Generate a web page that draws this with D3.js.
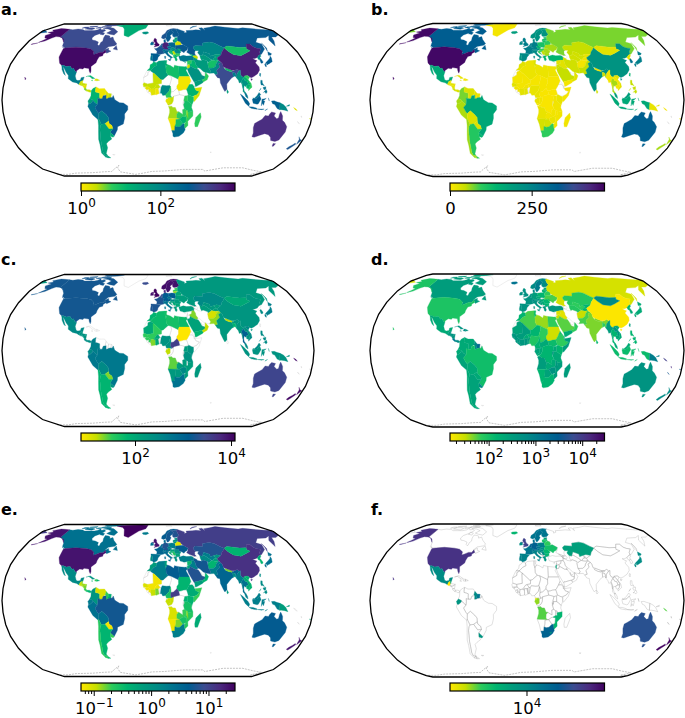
<!DOCTYPE html>
<html>
<head>
<meta charset="utf-8">
<script src="https://cdn.jsdelivr.net/npm/d3@7"></script>
<style>
  html, body { margin: 0; background: #fff; }
  svg { display: block; font-family: "DejaVu Sans", sans-serif; }
</style>
</head>
<body>
<svg id="chart" width="685" height="718"></svg>
<script>
// Country outlines: no atlas is available offline, so these are coarse hand-traced
// [lon, lat, lon, lat, ...] rings. Values below are read off the picture by colour.
const shapes = {
  CAN: [[-141,69.6,-135,69,-128,70,-120,69.5,-115,68,-108,68,-100,68,-95,69,-94,72,-90,69,-85,69.5,-82,68,-87,64.5,-93,62,-94.5,59,-92.5,57,-88,56.5,-82.5,55,-82,52.5,-80,51.5,-79,52,-79,54.5,-77,56,-78,59,-78,62.5,-73,62,-70,61,-69,59,-65,60,-62,57,-56,53,-58,51.3,-66,50.2,-70,47,-65,49,-64.5,47,-61,46,-66,44,-67,45,-69,47.3,-71,45,-75,45,-79,43.5,-83,42,-82.5,45,-88,48,-95,49,-123,49,-128,51,-130,54.5,-133,57,-137,59,-141,60],
    [-80,73.5,-72,71.5,-62,66.5,-65,62.5,-72,63.5,-78,65,-73,68,-80,70,-89,71,-85,73.5],[-117,70,-105,69,-102,71,-108,73,-117,73],[-90,77,-75,78,-62,82,-75,83,-92,81],[-125,72,-116,73,-118,75,-124,74.5],[-59,48,-53,47,-56,51.5],[-128,50.5,-123.5,48.5,-125,49],[-95,74,-80,74,-80,76,-95,76],[-117,75,-105,75,-105,77,-117,76],[-102,72,-96,71.5,-93,74,-100,74],[-87,63.5,-81,62.5,-81,65,-86,66],[-95,78,-88,77.5,-86,81,-95,81]],
  USA: [[-124.7,48.4,-123,49,-95,49,-88,48,-83,45.5,-82.5,42.5,-79,43.5,-75,45,-71,45,-69,47.3,-67,45,-70,43.5,-70,41.6,-74,40.6,-75.5,37.5,-76,35,-81,31.5,-80,27,-80.5,25,-82,27,-83,29.5,-85,29.7,-89,30.2,-90,29,-94,29.5,-97.3,27.5,-97.2,26,-99.5,27.5,-101.5,29.8,-103,29,-106.5,31.8,-111,31.3,-114.8,32.5,-117.1,32.5,-120.5,34.5,-122.5,37.5,-124.3,40.3,-124.5,43],
    [-141,69.6,-141,60,-137,59,-130.5,54.8,-134,58,-140,60,-148,60.5,-152,59,-158,56,-165,54.5,-158,58.5,-162,59,-166,62,-161,64.5,-168,65.6,-162,67,-166,68.5,-157,71,-150,70.5],[-165,54,-172,52.5,-172,52.9],[-156,19,-155,20,-156,20.5,-157,21.5]],
  GRL: [[-73,78,-60,82,-30,83.5,-18,80,-20,72,-30,68,-43,60,-50,62,-54,70,-60,75]],
  MEX: [[-117.1,32.5,-114.8,32.5,-111,31.3,-106.5,31.8,-103,29,-101.5,29.8,-99.5,27.5,-97.2,26,-97.8,22.5,-96,19,-94,18.2,-91,18.7,-90.5,21,-87,21.5,-88,18,-89.2,17.9,-91,17.2,-92.2,14.6,-95,16,-100,17,-105.5,20,-106,23,-109.5,26,-112.5,29.5,-114.8,31.5,-112,27,-109.5,23,-112,24.7,-115,28.5,-116,31]],
  GTM: [[-92.2,14.6,-91,17.2,-89.2,17.9,-88.9,15.9,-89.3,14.4,-90.5,13.8]],
  BLZ: [[-89.2,17.9,-88.2,18.4,-88.3,16,-88.9,15.9]],
  SLV: [[-90,13.8,-89.3,14.4,-87.7,13.8,-88,13.2]],
  HND: [[-89.3,14.4,-88.9,15.9,-83.2,15,-84.7,14,-87.5,13,-87.7,13.8]],
  NIC: [[-87.5,13,-84.7,14,-83.2,15,-83.7,11,-85.7,11]],
  CRI: [[-85.7,11,-83.7,11,-82.6,9.5,-83,8.3,-85.7,9.9]],
  PAN: [[-83,8.3,-82.6,9.5,-79.5,9.6,-77.4,8.7,-78,7.3,-80,7.4,-81,8]],
  CUB: [[-85,21.9,-80,23.1,-74.2,20.2,-77.7,19.9,-78,20.7,-82,22.6]],
  HTI: [[-74.4,18.4,-73.3,20,-71.7,19.8,-71.7,18]],
  DOM: [[-71.7,18,-71.7,19.8,-68.4,18.6]],
  JAM: [[-78.3,18.3,-76.2,18,-77,18.5]],
  COL: [[-77.4,8.7,-75.5,10.7,-72,12.2,-72.4,10,-72.5,7.5,-70,7,-67.5,6.2,-67.5,3,-67,1.2,-69.8,1.7,-69.5,-1,-70,-4.2,-73,-2.3,-75.3,0,-78.8,1.4,-77.5,4,-77.4,7]],
  VEN: [[-72,12.2,-68,10.6,-62,10.7,-60,8.5,-61,5.2,-63.4,3.9,-64.5,1.2,-67,1.2,-67.5,3,-67.5,6.2,-70,7,-72.5,7.5,-72.4,10]],
  GUY: [[-60,8.5,-57.2,6,-58,1.5,-60,1.2,-60,4.5,-61,5.2]],
  SUR: [[-57.2,6,-54,5.8,-54.4,2.3,-57,2,-58,1.5]],
  GUF: [[-54,5.8,-51.7,4.2,-53,2.2,-54.4,2.3]],
  ECU: [[-78.8,1.4,-75.3,0,-75.5,-1.5,-78.3,-3.5,-80.2,-3.4,-80.9,-1]],
  PER: [[-80.2,-3.4,-78.3,-3.5,-75.5,-1.5,-75.3,0,-73,-2.3,-70,-4.2,-73,-7,-70.5,-11,-69,-12.5,-69.5,-17.5,-70.4,-18.3,-76,-14,-81.2,-6]],
  BRA: [[-51.7,4.2,-53,2.2,-54.4,2.3,-57,2,-58,1.5,-60,1.2,-60,4.5,-63.4,3.9,-64.5,1.2,-67,1.2,-69.8,1.7,-69.5,-1,-70,-4.2,-73,-7,-70.5,-11,-69,-12.5,-65.3,-10,-60.5,-13.7,-58,-16.3,-58,-19.8,-57.7,-22,-54.6,-24,-54,-27,-57.6,-30.2,-53.4,-33.7,-48.6,-28,-48,-25,-41,-22.5,-39,-17,-38.9,-13,-35,-9,-35,-5.5,-40,-2.8,-44.3,-2.5,-48,-0.8,-50,0.5]],
  BOL: [[-69,-12.5,-65.3,-10,-60.5,-13.7,-58,-16.3,-58,-19.8,-62.6,-22.2,-67,-22.8,-69.5,-17.5]],
  PRY: [[-58,-19.8,-57.7,-22,-54.6,-24,-54,-27,-58.6,-27.3,-62.6,-22.2]],
  URY: [[-57.6,-30.2,-53.4,-33.7,-55,-35,-58.3,-34]],
  ARG: [[-67,-22.8,-62.6,-22.2,-58.6,-27.3,-54,-27,-57.6,-30.2,-58.3,-34,-57,-36.5,-62,-39,-65,-41,-65,-45,-69,-50.5,-68.5,-52.3,-72,-52,-72.5,-49,-71.5,-43,-71,-38,-70,-33,-69.5,-28,-68.4,-24.5],[-68.6,-52.6,-65.2,-54.8,-68.6,-54.9]],
  CHL: [[-70.4,-18.3,-69.5,-17.5,-67,-22.8,-68.4,-24.5,-69.5,-28,-70,-33,-71,-38,-71.5,-43,-72.5,-49,-72,-52,-68.5,-52.3,-72,-54,-75,-50,-73.5,-42,-73.5,-37,-71.5,-30,-70.5,-24],[-68.6,-52.6,-68.6,-54.9,-72,-54]],
  FLK: [[-61,-51.5,-58,-51.5,-59,-52.2]],
  ISL: [[-24,65.5,-22,66.4,-16,66.5,-14,65,-18,63.5,-22.5,64]],
  GBR: [[-5.5,50,1.3,51.2,1.7,52.7,0,53.5,-1.5,55,-2,56,-2,57.6,-3.5,58.6,-5,58.6,-6,56.5,-4.8,54.8,-3,54,-4.5,53.3,-5,52,-3,51.4],[-8,54.3,-5.5,54.4,-6.2,55.2,-7.5,55.1]],
  IRL: [[-10,52,-6.2,52.2,-6,53.9,-8,54.3,-7.5,55.1,-8.3,55.2,-10,54]],
  FRA: [[2.5,51,4.5,50,6,49.5,8.2,49,7.6,47.6,6,46.3,7,45.9,7.6,43.8,3,43,-1.8,43.4,-1.2,46,-4.7,48.4,-1.5,48.7,1.5,50.2]],
  ESP: [[-9,43.8,-1.8,43.4,3,42.5,0,40,-0.5,38,-2,36.8,-5.5,36,-7.4,37.2,-7,39.5,-6.5,41.9,-8.8,42]],
  PRT: [[-8.8,42,-6.5,41.9,-7,39.5,-7.4,37.2,-9,37,-9.5,38.8]],
  BEL: [[2.5,51,4,51.4,6,50.8,6,49.5,4.5,50]],
  NLD: [[3.5,51.4,6,51,7,53.2,5,53.3]],
  DEU: [[7,53.5,9,54.9,14,54,15,51,12.2,50.3,13.8,48.6,13,47.5,7.6,47.6,8.2,49,6,49.5,6,51,7,53.2]],
  CHE: [[6,46.3,7.6,47.6,9.6,47.5,10.4,46.6,8.5,46,7,45.9]],
  AUT: [[9.6,47.5,13,47.5,13.8,48.6,17,48.8,16.5,46.8,13.7,46.5,10.4,46.6]],
  ITA: [[7,45.9,8.5,46,10.4,46.6,13.7,46.5,12.3,44.5,14,42.5,18.4,40,16.5,39.5,16,38,15.5,40,12,41.8,10.3,43.5,8.8,44.4,7.6,43.8],[12.5,38,15.6,38.2,15.1,36.7],[8.2,41,9.7,41,9.5,39,8.5,39]],
  DNK: [[8.2,55,9,54.9,10.8,54.8,10.5,56.5,10.5,57.7,8.2,57]],
  NOR: [[5,59,6,62,11,64.8,14,68,20,70,25,71,31,70,29,69,25,68.8,20,69,15,66,13,64,12,60,11,59,8,58]],
  SWE: [[11,59,12,60,13,64,15,66,20,69,24,66,21.5,64,17.5,61.5,18.8,59.7,16.5,57,14.3,55.5,12.8,55.5]],
  FIN: [[20,69,25,68.8,29,69,30,65,31.5,62.8,28,60.5,23,60,21.5,61,21.5,64,24,66]],
  EST: [[23.5,59.3,28,59.4,27.5,57.6,24.3,58]],
  LVA: [[21,57,24.3,58,27.5,57.6,28,56.1,25,56.3,21,56]],
  LTU: [[21,56,25,56.3,26.7,55.5,23.5,54,21,55.3]],
  POL: [[14,54,19,54.5,23,54.3,24,50.5,22.6,49.1,18.8,49.6,15,51]],
  CZE: [[12.2,50.3,15,51,18.8,49.6,17,48.8,13.8,48.6]],
  SVK: [[17,48.8,18.8,49.6,22.6,49.1,22,48.3,18,47.8]],
  HUN: [[16.5,46.8,17,48.8,18,47.8,22,48.3,22.8,47.9,21,46.2,19,45.9]],
  SVN: [[13.7,46.5,16.5,46.8,15.5,45.5,13.7,45.5]],
  HRV: [[13.7,45.5,15.5,45.5,16.5,46.8,19,45.9,19,45,16,45.2,18.5,42.5,15,44]],
  BIH: [[16,45.2,19,45,19.4,43.5,18.5,42.5]],
  SRB: [[19,45.9,21,46.2,22.6,44.3,22.7,42.5,20.5,42.5,19.4,43.5,19,45]],
  MNE: [[18.5,42.5,19.4,43.5,20.5,42.5,19.4,41.9]],
  ALB: [[19.4,42.5,20.5,42.5,21,40.5,19.4,40.3]],
  MKD: [[20.5,42.5,22.7,42.5,23,41.3,21,41]],
  GRC: [[21,41,23,41.3,26.2,41.5,24,40.8,23,40,24,38,23,36.5,21.5,37,21,39.5,19.5,40]],
  BGR: [[22.7,42.5,22.6,44.3,27.8,43.7,28,42,26.2,41.5,23,41.3]],
  ROU: [[21,46.2,22.8,47.9,26.5,48.2,28,46.5,29.7,45.2,27.8,43.7,22.6,44.3]],
  BLR: [[23.5,54,26.7,55.5,28,56.1,31,55.3,32,53.5,31,52,24,51.5]],
  UKR: [[24,51.5,31,52,34,52.3,40,49.6,38,47,35,46,33.5,44.5,30.7,46,28,46.5,26.5,48.2,22.8,47.9,22.6,49.1,24,50.5]],
  MDA: [[26.5,48.2,29,48,30,46.4,28,46.5]],
  RUS: [[28,59.4,28,60.5,31.5,62.8,30,65,29,69,31,70,41,67,40,65,44,66,44,68,54,68.5,60,69,68,68.5,67,72,73,73,74,68,75,72,87,74,100,77,113,74,130,71,140,72.7,160,69.7,170,69,179.9,69,179.9,65,178,62.5,170,60,164,60,162,56,157,51,156,57,163,62,155,59.5,142,59,135,54.7,141,53,140,48,132,43,130.5,42.8,131,45,135,48.3,130.5,48.8,127,50,125,53,120,53,117,49.7,108,49.5,98,50.5,92,51,87.5,49.2,83,51,77,54,71,55,61,54,60,51,50,51.5,47,50,47,48,49,46.5,47.5,45.5,47,43,48.5,41.8,46.5,41.5,40,43.5,37,45,39,47,40,49.6,34,52.3,32,53.5,31,55.3,28,56.1,27.5,57.6],
    [-179.9,69,-170,66,-178,65,-179.9,65],[142,54,143.5,49,142,46,142,50],[52,71,58,74,68,77,60,76,54,73]],
  GEO: [[40,43.5,46.5,41.5,43.5,41]],
  ARM: [[43.5,41,46.5,39,44.8,39.7]],
  AZE: [[46.5,41.5,48.5,41.8,50,40.3,48.8,38.5,46.5,39,43.5,41]],
  TUR: [[26.2,41.5,28,41,32,42,36,41.3,41.5,41.5,43.5,41,44.8,39.7,44.5,37.2,42,37.2,36.5,36.5,32,36,30,36.5,27.5,37,26.5,39.5]],
  CYP: [[32.5,35,34,35.5,33.5,34.7]],
  KAZ: [[47,48,47,50,50,51.5,60,51,61,54,71,55,77,54,83,51,87.5,49.2,85,47,82.5,45.3,80,42.2,74.5,43,70,42,66,41,66,43.5,59,45.5,56,41.5,53,42,51,44.5,53,46.5,49,46.5]],
  UZB: [[56,41.5,59,45.5,66,43.5,66,41,70,42,73,40.5,70.5,39.7,67.5,37.3,64.5,39,61,41,58,42.5]],
  TKM: [[53,42,56,41.5,58,42.5,61,41,64.5,39,66.5,37.4,62,35.3,61,36.5,56,38,54,37.4,53,39.5]],
  KGZ: [[70,42,74.5,43,80,42.2,74,39.5,70.5,39.7,73,40.5]],
  TJK: [[67.5,37.3,70.5,39.7,74,39.5,75,37.3,71.5,36.7,69,37]],
  AFG: [[60.8,34.5,62,35.3,66.5,37.4,69,37,71.5,36.7,74.5,37,71,34,70,32,66.5,30,61,29.8,60.8,31.5]],
  PAK: [[61.5,25,66.5,25.3,68,23.7,71,24.5,70,28,74.5,31,74,34,77.5,35.5,74.5,37,71,34,70,32,66.5,30,61,29.8,63,27]],
  IND: [[68,23.7,70,21,72.8,20.5,73,16,76,10,77.5,8,80,10,80.3,15,84,18.5,87,21,88.7,21.7,89,26,92,25,92.5,21,93,22,93.7,24.5,97,27.5,95,29,92,27.8,89,27,88.5,27.8,88,26.5,84,27.2,80.5,28.7,79,31,78.7,34,77.5,35.5,74,34,74.5,31,70,28,71,24.5]],
  BGD: [[88.7,21.7,89,26,92,25,92.5,21,91,22.5]],
  NPL: [[80.5,28.7,84,27.2,88,26.5,88.5,27.8,84,29.2,81,30.2]],
  BTN: [[89,27,92,26.8,92,27.8,89,27.8]],
  LKA: [[80,9.7,81.8,7.5,80.5,6,79.8,7.5]],
  CHN: [[74,39.5,80,42.2,82.5,45.3,85,47,87.5,49.2,91,46,96,42.7,105,41.7,111,43.5,120,46.5,116,48,117,49.7,120,53,125,53,127,50,130.5,48.8,135,48.3,131,45,130.5,42.8,128,42,124.5,40,121,39,118,39,120.5,37.5,122.5,37,119.5,35,122,31,121.5,28,118,24.5,113,22,110,21,108,21.7,106,23,102,22.5,101.5,21.2,99,22,97.7,24,98.5,28,97,27.5,95,29,92,27.8,88.5,27.8,84,29.2,81,30.2,79,31,78.7,34,77.5,35.5,75,37.3],[109,20,111,19.7,109.5,18.2]],
  MNG: [[87.5,49.2,92,51,98,50.5,108,49.5,117,49.7,116,48,120,46.5,111,43.5,105,41.7,96,42.7,91,46]],
  PRK: [[124.5,40,128,42,130.5,42.8,129.7,41,127.5,39.7,128.3,38.5,126.5,37.8,125,38]],
  KOR: [[126.5,37.8,128.3,38.5,129.4,36,128.5,34.8,126.3,34.5]],
  JPN: [[131,34,133,35.5,136.5,37.3,140,39.5,141.5,41.3,142,39.5,140.8,36,137,34.5,135.5,33.7,133,34.2],[140,42,142,45.5,145.3,43.5,143,42],[130,33.5,131.8,33.5,131,31.2,130,31.5],[132.5,33.8,134.5,34.2,134,33.4,133,32.8]],
  TWN: [[121,25.2,122,24.8,120.9,22,120.1,23]],
  MMR: [[92.2,21,93,22,93.7,24.5,97,27.5,98.5,28,97.7,24,99,22,101.5,21.2,100,20.4,97.8,17.5,99,14,98.7,10.5,98,14,97.3,16.7,95,16,94.3,18.5]],
  THA: [[100,20.4,101.5,19.5,102,18,104.5,17.5,105.5,14.5,102.7,13.5,102,12.5,100.5,13.5,99.5,11,100,8.5,102,6.2,100.2,6.5,98.5,8,98.7,10.5,99,14,97.8,17.5]],
  LAO: [[101.5,21.2,102,22.5,105,20,107.5,16,107.5,14.5,105.5,14.5,104.5,17.5,102,18,101.5,19.5,100,20.4]],
  VNM: [[102,22.5,106,23,108,21.7,105.7,19,108.8,15.5,109.3,12,106.7,10.3,105,8.7,105,10.5,106.6,12,107.5,14.5,107.5,16,105,20]],
  KHM: [[102.7,13.5,105.5,14.5,107.5,14.5,106.6,12,105,10.5,103,11]],
  MYS: [[100.2,6.5,102,6.2,103.5,4,104,1.4,101.5,3],[109.6,2,111,1.5,114.5,4,117,7,119,5,117.5,4.2,115,2,114,1.5,110,1]],
  IDN: [[95.3,5.6,98,4,104,-1,106,-3.5,105,-5.8,101,-3,98.5,0.5],[105.2,-6.3,110,-6.5,114.5,-7.7,114.4,-8.7,108,-7.8],[109,1,110,1,114,1.5,115,2,117.5,4.2,119,1,116,-3.5,114.5,-4,110,-3,109,0],[119.5,-5.5,120,0.8,125,1.5,121,-1,123.3,-1,122,-5,120.5,-3],[131,-1,134.2,-0.8,137,-1.7,141,-2.6,141,-9.1,138,-8,135,-4.3,132.5,-3.5],[124,-10,127,-8.4,125,-9],[115,-8.4,123,-8.5,120,-9],[127.5,2,128.5,-1,128,0]],
  PNG: [[141,-2.6,145,-4.3,148,-6.5,150.8,-10.5,147,-9.5,143,-9,141,-9.1],[148.5,-5.8,152,-4.3,152,-5.5]],
  PHL: [[120.5,18.5,122.2,18.4,122,16,124,13,122,14,120.3,14,120,16],[122,7,125.5,9.7,126.5,7.5,125,6,123.5,7.6],[122,11.7,125.5,12.5,125,10,123,9.5],[117.3,8.5,119.5,11,119,10]],
  AUS: [[114,-22,113.5,-26,115,-31,115,-34.4,118,-35,124,-33,129,-31.6,134,-32.5,138,-35,140,-38,146,-39,150,-37.5,153,-30,153,-25,149,-21,146,-19,145.5,-15,142.5,-10.8,141.5,-13,141,-17,139,-17.5,135.5,-15,136.7,-12.2,132,-11.2,130,-13,129,-15,125,-14.5,122,-18,117,-20.5],[145,-40.8,148.3,-41,147.5,-43.5,146,-43.5]],
  NZL: [[172.7,-34.5,175.5,-36.8,178.5,-37.7,177,-39.5,175.3,-41.6,174.8,-39,174.8,-37],[172.7,-40.5,174.3,-41.7,171,-45,169,-46.7,166.5,-46,168,-44,171,-42]],
  NCL: [[164,-20.2,167,-22.3,166,-22]],
  FJI: [[177.2,-17.5,178.6,-18,178.6,-17.3]],
  VUT: [[166.8,-15,167.5,-15,168,-16.5]],
  SLB: [[157,-7,160,-8.5,161.5,-10,159,-9]],
  SYR: [[36,36.5,42,37.2,41,34.5,38.5,33.5,36,33]],
  LBN: [[35.2,33.2,36,33.5,36.3,34.6,35.8,34.6]],
  ISR: [[34.3,31.2,35,29.6,35.5,32,35.7,33,35,33]],
  JOR: [[35,29.6,38,30,39,32,38.5,33.5,36,32.5,35.5,32]],
  IRQ: [[38.5,33.5,41,34.5,42,37.2,44.5,37.2,46,35,46,33,48,30.5,47.5,29.8,46.5,29.1,44.7,29.2,39,32]],
  KWT: [[46.5,29.1,47.5,29.8,48.3,28.6]],
  SAU: [[35,29.4,38,30,39,32,44.7,29.2,46.5,29.1,48.3,28.6,50,26.5,51,24.6,52,23,55.5,22,55,20,52,19,49,18.5,45,17.5,43.3,17.5,42.5,16.5,39,21.5,36.5,25.5]],
  YEM: [[42.8,16.5,43.5,12.7,45,12.8,52,16,53,17,52,19,49,18.5,45,17.5,43.3,17.5]],
  OMN: [[53,17,52,19,55,20,55.5,22,56,24.5,56.5,26,59.8,22.5,57.7,19]],
  ARE: [[51.5,24.2,54,24.2,56.3,26,56,24.5,55.5,22,52,23]],
  QAT: [[51,24.6,51.5,26.1,51.6,25]],
  IRN: [[44.5,37.2,44.8,39.7,48,38.8,49,37.5,54,36.8,54,37.4,56,38,61,36.5,60.8,34.5,60.8,31.5,61,29.8,63,27,61.5,25,57,25.7,54,26.7,50.5,29.5,48,30.5,46,33,46,35]],
  MAR: [[-5.5,35.8,-2,35,-1.2,32.5,-5,31,-8.7,28,-13,27.7,-9.8,30,-9.5,33,-6.8,34.2]],
  ESH: [[-13,27.7,-8.7,27.7,-12,26,-12,23.4,-17,21,-15,24.5]],
  DZA: [[-2,35,1,36.5,8.6,37,8.5,33,9.5,30,9.8,26,12,23.5,6,19.3,3.2,19,-4.8,25,-8.7,27.3,-8.7,28,-5,31,-1.2,32.5]],
  TUN: [[8.6,37,11,37,10.2,34,11.5,33.2,9.5,30.5,8.5,33]],
  LBY: [[11.5,33.2,15,32.3,19,30.3,20,32.7,25,31.7,25,22,24,20,24,19.5,15,23,12,23.5,9.8,26,9.5,30.5]],
  EGY: [[25,31.7,32,31.2,34.2,31.3,35,29.5,33.5,28,34,27,37,22,25,22]],
  SDN: [[24,20,25,22,37,22,38.5,18,36.5,14.5,34,11,33,10,29.5,9.7,27,9,24,8.7,22,11,22,13,24,15.5]],
  SSD: [[24,8.7,27,9,29.5,9.7,33,10,34,8,35,5,31,3.7,28,4.5,25,5]],
  ERI: [[36.5,14.5,38.5,18,43,12.7,42,12.7,40,14.7]],
  DJI: [[42,12.7,43.3,12.5,43,11,42,11]],
  ETH: [[34,11,36.5,14.5,40,14.7,42,12.7,42,11,43,11,44,9,48,8,45,5,42,4,39,3.5,35.5,5,35,5,34,8,33,10]],
  SOM: [[43,11,51,12,47.5,4,42,-1.5,41,-1,41,3,42,4,45,5,48,8,44,9]],
  MRT: [[-17,21,-12,23.4,-12,26,-8.7,27.3,-4.8,25,-6,25,-5.5,16,-9,15.5,-12,15,-16.5,16.2]],
  MLI: [[-4.8,25,3.2,19,4.2,19,4,15.5,0,14.9,-2,14,-4,11.5,-5,10.5,-8,10.2,-11.5,12.5,-12,15,-9,15.5,-5.5,16,-6,25]],
  NER: [[4.2,19,6,19.3,12,23.5,15,23,16,20,13.5,13.5,10,13.3,5,13.8,3.6,11.7,2.3,12.3,0,14.9,4,15.5]],
  TCD: [[15,23,24,19.5,24,15.5,22,13,22,11,18,8,15,7.5,15,10,14.5,12.8,13.5,13.5,16,20]],
  SEN: [[-17.5,14.7,-16.5,16.2,-12,15,-11.5,12.5,-13.7,12.5,-16.7,12.4]],
  GIN: [[-15,11,-13.7,12.5,-11.5,12.5,-8,10.2,-8.5,7.6,-10.7,8,-10.5,10,-13,9.5]],
  GNB: [[-16.7,12.4,-13.7,12.5,-15,11]],
  SLE: [[-13,9.5,-10.5,10,-10.7,8,-11.5,7,-13,8]],
  LBR: [[-11.5,7,-10.7,8,-8.5,7.6,-7.5,4.5]],
  CIV: [[-8.5,7.6,-8,10.2,-5,10.5,-3,9.7,-2.7,5.1,-7.5,4.5]],
  BFA: [[-5,10.5,-4,11.5,-2,14,0,14.9,2.3,12.3,1,11,-3,11,-3,9.7]],
  GHA: [[-3,11,0,11,1.2,6,-2,4.8,-2.7,5.1,-3,9.7]],
  TGO: [[0,11,1,11,1.6,6.2,1.2,6]],
  BEN: [[1,11,2.3,12.3,3.6,11.7,2.7,6.4,1.6,6.2]],
  NGA: [[2.7,6.4,3.6,11.7,5,13.8,10,13.3,13.5,13.5,14.5,12.8,13,8.5,8.7,4.6,5.5,4.3,4.2,6.3]],
  CMR: [[8.7,4.6,13,8.5,14.5,12.8,15,10,15,7.5,14.5,4.5,16,2,9.7,2.3]],
  CAF: [[15,7.5,18,8,22,11,24,8.7,25,5,19,3.7,16,2,14.5,4.5]],
  GNQ: [[9.5,2.2,11.3,2.2,11.3,1,9.5,1]],
  GAB: [[9.7,1,11.3,1,11.3,2.2,13,2.2,14,1.4,14,-2.5,11,-3.8,8.8,-1]],
  COG: [[13,2.2,16,2,18,3.5,17.5,-1,16,-3.5,12,-5,11,-3.8,14,-2.5,14,1.4]],
  COD: [[18,3.5,19,3.7,25,5,28,4.5,31,3.7,29.7,-0.5,29,-4.5,30.7,-8.2,28.5,-9,29,-13.5,24,-11,22,-11,20,-7,17,-7,16,-5.8,12.2,-6,16,-3.5,17.5,-1]],
  AGO: [[12.2,-6,16,-5.8,17,-7,20,-7,22,-11,24,-11,22,-13,22,-16.5,23.4,-17.6,13.9,-17.4,11.8,-17.3,13.5,-12,13.5,-9]],
  ZMB: [[22,-13,24,-11,29,-13.5,28.5,-9,30.7,-8.2,33,-9.5,33.2,-14,30.2,-15.5,28,-16,25.3,-17.8,23.4,-17.6,22,-16.5]],
  NAM: [[11.8,-17.3,13.9,-17.4,23.4,-17.6,25.3,-17.8,21,-18.3,21,-22,20,-28.5,16.5,-28.6,14.5,-22.5]],
  BWA: [[21,-18.3,25.3,-17.8,29.3,-22.2,26,-25,23,-25.3,20,-24.7,21,-22]],
  ZWE: [[25.3,-17.8,28,-16,30.2,-15.5,33,-16,32.9,-21,29.3,-22.2]],
  ZAF: [[16.5,-28.6,20,-28.5,20,-24.7,23,-25.3,26,-25,29.3,-22.2,31.3,-22.4,32,-26.5,32.5,-28,30.5,-31,25.6,-34,20,-34.8,18.3,-34,18,-31.5]],
  MOZ: [[30.2,-15.5,33.2,-14,35,-14,34.7,-11.5,40.5,-10.5,40.7,-15,35,-20,35.5,-24,32.9,-26,32,-26.5,31.3,-22.4,32.9,-21,33,-16]],
  MWI: [[33,-9.5,34.7,-9.8,34.7,-11.5,35,-14,35.2,-17,33.2,-14]],
  TZA: [[30.7,-8.2,29.5,-4.5,30.5,-2.5,30.5,-1,34,-1,37.7,-3.2,39.2,-4.7,38.8,-7,40.5,-10.5,34.7,-11.5,34.7,-9.8,33,-9.5]],
  KEN: [[34,-1,34,4,35.5,5,39,3.5,41,3,41,-1,39.2,-4.7,37.7,-3.2]],
  UGA: [[29.7,-0.5,31,3.7,34,4,34,-1,30.5,-1]],
  RWA: [[29,-1.3,30.5,-1,30.5,-2.5,29,-2.8]],
  BDI: [[29,-2.8,30.5,-2.5,29.5,-4.5]],
  MDG: [[49.3,-12,50.5,-16,47,-25,44,-25,43.3,-22,44.3,-16.5]],
  LSO: [[27,-30,29.3,-29.5,28.5,-30.8]],
  ATF: [[69,-49,70.5,-49,70,-50]],
  SJM: [[14,78,22,80.5,25,77.5,17,77]]
};
const antarcticaCoast = [-179.9,-78,-160,-78,-140,-75,-110,-74,-90,-72,-75,-71,-67,-67,-58,-63,-62,-66,-62,-72,-40,-78,-25,-75,-10,-71,10,-70,40,-68,70,-68,75,-70,100,-66,130,-66,150,-69,170,-72,165,-78,179.9,-78];

const valuesA = {USA:6500,CAN:1270,GRL:20,MEX:140,GTM:2.4,HND:2.4,SLV:2.4,NIC:1.6,BLZ:1.6,CRI:3.8,PAN:2.4,CUB:15,HTI:1.6,DOM:2.4,JAM:6,COL:15,VEN:1.3,GUY:1.6,SUR:2.4,ECU:35,PER:212,BRA:600,BOL:140,PRY:1.5,CHL:35,ARG:30,URY:20,
  MAR:15,DZA:35,TUN:20,LBY:10,EGY:15,MLI:2.4,SDN:1.2,SEN:2.4,GIN:1.5,CIV:1.6,GHA:1.3,BFA:2.4,NGA:87,CMR:6,ETH:15,SOM:2,KEN:10,TZA:10,UGA:6,COG:2.4,GAB:1.6,AGO:3,ZMB:6,MOZ:6,MWI:3.8,ZWE:15,NAM:1.3,BWA:10,ZAF:260,MDG:6,
  GBR:7000,IRL:330,FRA:800,ESP:520,PRT:212,DEU:3800,BEL:520,NLD:800,NOR:800,SWE:600,FIN:600,DNK:520,POL:330,CZE:212,AUT:330,CHE:212,ITA:330,EST:30,LVA:30,LTU:30,BLR:2,UKR:600,ROU:87,BGR:6,GRC:15,TUR:170,SRB:2.4,HUN:87,HRV:15,BIH:15,ALB:6,MKD:15,SVK:87,SVN:87,MDA:15,
  RUS:600,KAZ:100,UZB:87,TKM:40,KGZ:35,TJK:30,MNG:10,CHN:4000,IND:1270,PAK:87,AFG:10,IRN:40,IRQ:15,SAU:60,YEM:35,OMN:6,SYR:6,JOR:2.4,AZE:2.4,GEO:15,ARM:15,NPL:10,BGD:140,MMR:60,THA:60,LAO:15,VNM:6,KHM:15,MYS:212,IDN:450,PHL:212,JPN:520,KOR:520,PRK:87,TWN:212,PNG:87,AUS:2900,NZL:800,LKA:35,FJI:2.4,SLB:1.6,ISL:60,CYP:35};
const valuesB = {USA:465,CAN:330,GRL:9,MEX:165,GTM:25,HND:20,SLV:25,NIC:20,BLZ:15,CRI:40,PAN:30,CUB:20,HTI:5,DOM:20,JAM:25,COL:72,VEN:30,GUY:20,SUR:20,ECU:57,PER:55,BRA:170,BOL:30,PRY:30,CHL:60,ARG:105,URY:142,
  MAR:24,DZA:16,TUN:30,LBY:16,EGY:14,MRT:10,MLI:10,NER:8,TCD:8,SDN:8,SSD:5,SOM:8,SEN:24,GIN:12,CIV:24,GHA:24,BFA:12,NGA:18,CMR:18,CAF:5,GAB:18,COG:12,COD:5,KEN:18,TZA:12,UGA:12,AGO:18,ZMB:12,MOZ:12,MWI:8,NAM:35,BWA:35,ZWE:18,MDG:12,ZAF:95,
  TUR:142,FRA:260,ESP:237,PRT:213,GBR:260,IRL:237,DEU:260,BEL:260,NLD:260,NOR:213,SWE:213,FIN:213,DNK:237,POL:118,CZE:142,AUT:213,CHE:260,ITA:237,GRC:142,HUN:95,ROU:57,BGR:57,SRB:47,HRV:95,UKR:57,BLR:95,EST:120,LVA:120,LTU:120,ISL:190,
  RUS:71,KAZ:47,UZB:38,TKM:38,KGZ:20,TJK:14,MNG:24,CHN:213,IND:213,PAK:47,AFG:9,IRN:38,IRQ:24,SAU:47,YEM:9,OMN:24,SYR:24,JOR:40,NPL:14,BGD:40,MMR:9,THA:57,LAO:9,VNM:24,KHM:9,MYS:190,IDN:165,PHL:47,JPN:260,KOR:284,PRK:20,TWN:142,PNG:19,AUS:322,NZL:57,LKA:40,FJI:14,SLB:9};
const valuesC = {USA:1700,CAN:1700,MEX:300,GTM:210,HND:210,SLV:210,NIC:210,BLZ:210,CRI:260,PAN:260,COL:420,PER:520,BRA:520,ECU:300,BOL:300,PRY:22,ARG:68,CHL:68,URY:210,
  MAR:68,DZA:58,TUN:48,LBY:48,EGY:58,MRT:100,MLI:33,SDN:7.6,SEN:33,GIN:33,CIV:22,GHA:100,BFA:100,NGA:210,CMR:210,CAF:3800,KEN:210,TZA:210,UGA:140,GAB:16,AGO:26,ZMB:140,MOZ:140,NAM:170,BWA:170,ZWE:300,ZAF:620,MDG:170,
  GBR:12000,IRL:9000,FRA:1900,ESP:1900,PRT:1900,DEU:1300,BEL:2700,NLD:2700,NOR:10000,SWE:9000,FIN:9000,DNK:5900,LTU:20,EST:33,LVA:33,POL:1300,CZE:620,AUT:1300,CHE:1300,ITA:620,UKR:140,ROU:140,TUR:140,GRC:140,BGR:100,SRB:100,HRV:140,HUN:300,BLR:100,
  RUS:170,KAZ:300,UZB:170,TKM:140,KGZ:140,TJK:140,MNG:100,CHN:190,IND:170,PAK:20,AFG:13,IRQ:22,SAU:120,YEM:68,OMN:16,NPL:16,BGD:68,MMR:170,THA:1200,VNM:300,LAO:210,KHM:210,MYS:300,IDN:210,PHL:300,JPN:420,KOR:300,AUS:3200,NZL:11000,SLB:10000,ISL:2700,PNG:210};
const valuesD = {USA:90,CAN:310,MEX:210,GTM:310,HND:460,SLV:460,NIC:460,BLZ:460,CRI:1400,PAN:650,CUB:460,HTI:650,DOM:460,JAM:460,COL:210,VEN:210,GUY:650,SUR:2000,ECU:210,PER:260,BRA:110,BOL:210,PRY:210,ARG:260,CHL:210,URY:650,
  MAR:147,DZA:60,TUN:110,LBY:40,EGY:68,MRT:260,MLI:310,NER:147,TCD:68,SDN:28,SSD:120,ETH:68,ERI:100,DJI:200,SOM:310,SEN:380,GIN:380,GNB:380,SLE:380,LBR:380,CIV:380,GHA:380,BFA:200,TGO:300,BEN:300,NGA:86,CMR:147,CAF:210,COD:147,GAB:260,COG:210,GNQ:300,AGO:310,ZMB:210,MOZ:310,MWI:400,NAM:147,BWA:260,ZAF:147,TZA:210,KEN:147,UGA:210,RWA:400,BDI:400,MDG:310,ZWE:460,
  NOR:650,SWE:1000,FIN:650,GBR:500,IRL:500,FRA:460,BEL:460,NLD:500,ESP:460,PRT:460,ITA:460,DEU:310,POL:147,CZE:210,AUT:400,CHE:650,DNK:650,ISL:1400,GRC:400,BGR:147,ROU:147,HUN:210,UKR:60,BLR:68,EST:210,LVA:210,LTU:147,SRB:210,HRV:300,BIH:300,MDA:100,
  TUR:380,RUS:26,KAZ:80,UZB:68,TKM:80,KGZ:147,TJK:147,MNG:650,CHN:15.5,IND:46,PAK:60,AFG:31,IRQ:22,SYR:25,JOR:30,SAU:55,OMN:68,YEM:210,NPL:46,BGD:68,MMR:310,THA:147,VNM:210,LAO:460,KHM:210,MYS:210,IDN:120,PNG:1000,PHL:147,JPN:210,KOR:210,PRK:147,AUS:460,NZL:650,TWN:310,LKA:147,FJI:3000,SLB:9000,VUT:14000,NCL:4000};
const valuesE = {USA:22,CAN:2.5,GRL:29,MEX:1.3,GTM:.11,HND:.13,NIC:.15,SLV:.11,BLZ:.15,CRI:.2,PAN:.38,CUB:.9,HTI:.2,DOM:.38,JAM:.4,VEN:.09,GUY:.2,SUR:.4,COL:.9,ECU:2,PER:2.5,BRA:5.5,BOL:2.5,PRY:.07,ARG:.38,CHL:.23,URY:.2,
  MAR:.72,DZA:1.8,TUN:.72,LBY:4.7,EGY:3.5,MLI:.07,SEN:.09,GIN:.07,CIV:.11,GHA:.15,BFA:.07,NGA:1.8,CMR:.28,CAF:11,SDN:.38,ETH:.5,SOM:.2,KEN:.38,UGA:.38,TZA:.28,COG:.11,GAB:.11,AGO:.09,ZMB:.2,MOZ:.23,MWI:.15,ZWE:.28,NAM:.07,BWA:.15,ZAF:1.8,MDG:.5,
  GBR:22,IRL:2.5,FRA:3.5,ESP:2.5,PRT:1.3,DEU:6.5,BEL:3.5,NLD:3.5,NOR:4.7,SWE:5.5,FIN:6.5,DNK:3,BLR:.08,EST:1,LVA:1,LTU:1,POL:1.8,CZE:1.8,AUT:2.5,CHE:2.5,ITA:3,UKR:4.7,ROU:1,BGR:.6,GRC:1,TUR:1.8,HUN:.7,SRB:.25,HRV:.5,ISL:2,
  RUS:11,KAZ:6.5,UZB:1.8,TKM:1.3,KGZ:.9,TJK:.7,MNG:.38,CHN:14,IND:3.5,PAK:1.8,AFG:.38,IRN:5.5,IRQ:1.8,SAU:6.5,YEM:.72,OMN:.38,SYR:.34,JOR:.6,NPL:.15,BGD:1.3,MMR:1.8,THA:2.5,LAO:.5,VNM:.38,KHM:.5,MYS:1.8,IDN:1.8,PHL:1.3,JPN:2.5,KOR:.38,PRK:.5,TWN:1.3,PNG:.72,AUS:4.7,NZL:22,LKA:.72,FJI:.5};
const valuesF = {USA:55000,MEX:9700,AUS:34000,NZL:95000,ZAF:22000,ESP:12000,FRA:15000,PRT:12000,GBR:45000,IRL:9700,DEU:23000,BEL:23000,NLD:23000,NOR:15000,SWE:16000,FIN:15000,DNK:16000,POL:12000,CZE:15000,AUT:15000,CHE:15000,ITA:12000,UKR:3400,BLR:2700,GRC:8000,HUN:9700,ROU:4100,BGR:4100,LTU:3400,LVA:3400,EST:8000,KAZ:6200,JPN:9700,ECU:8000,GUY:9700,SUR:15000,URY:8000,AGO:2400,GAB:2000,GNQ:1200,MOZ:4100,LSO:5000,ISL:4100,ISR:6200,GTM:1100,BLZ:6200,SLB:2400,HRV:9700,SVN:9700,SVK:9700,SRB:9700};

const panelLabels = ['a.', 'b.', 'c.', 'd.', 'e.', 'f.'];
const panelValues = [valuesA, valuesB, valuesC, valuesD, valuesE, valuesF];
const panelDomains = [[1, 7600], [0, 473], [7.5, 12100], [14.9, 30000], [0.06, 29], [1100, 95000]];
const majorTicks = [[1, 100], [0, 250], [100, 10000], [100, 1000, 10000], [0.1, 1, 10], [10000]];
const minorTicks = [[], [], [],
  [20,30,40,50,60,70,80,90,200,300,400,500,600,700,800,900,2000,3000,4000,5000,6000,7000,8000,9000,20000],
  [0.07,0.08,0.09,0.2,0.3,0.4,0.5,0.6,0.7,0.8,0.9,2,3,4,5,6,7,8,9,20],
  []];

// viridis-like ramp as it appears in the colour bars, low value = yellow
const rampColors = ['#ffe600', '#c6df00', '#2ccb5c', '#00b470', '#009c7c', '#008a86', '#00728f', '#005c90', '#3b4c90', '#4b2b80', '#40005f'];
const ramp = d3.piecewise(d3.interpolateRgb, rampColors);

// Table-driven pseudo-cylindrical projection fitted to the frame in the picture
const tableLat = [0, 10, 20, 30, 40, 50, 60, 70, 80, 90];
const tableWidth = [1, .995, .982, .96, .92, .868, .799, .72, .63, .6];
const tableHeight = [0, 10.7, 21.3, 32, 42.6, 53, 63, 71, 75.2, 76];
const widthAt = d3.scaleLinear().domain(tableLat).range(tableWidth);
const heightAt = d3.scaleLinear().domain(tableLat).range(tableHeight.map(d => d / 156));
function rawMap(lambda, phi) {
  const lat = Math.abs(phi) * 180 / Math.PI;
  return [lambda / Math.PI * widthAt(lat), Math.sign(phi) * heightAt(lat)];
}

function pairs(flat) {
  const out = [];
  for (let i = 0; i < flat.length; i += 2) out.push([flat[i], flat[i + 1]]);
  return out;
}

// d3 polygons are spherical: make sure each ring encloses the small side
function ringPolygon(flat) {
  const ring = pairs(flat);
  ring.push(ring[0]);
  if (d3.geoArea({ type: 'Polygon', coordinates: [ring] }) > 2 * Math.PI) ring.reverse();
  return [ring];
}

const countries = Object.keys(shapes).map(code => ({
  type: 'Feature',
  id: code,
  geometry: { type: 'MultiPolygon', coordinates: shapes[code].map(ringPolygon) }
}));
const antarctica = { type: 'LineString', coordinates: pairs(antarcticaCoast) };

const svg = d3.select('#chart');
const defs = svg.append('defs');
defs.append('linearGradient').attr('id', 'ramp')
  .selectAll('stop')
  .data(d3.range(0, 1.001, 0.05))
  .join('stop')
  .attr('offset', d => d)
  .attr('stop-color', d => ramp(d));

const columnX = [158, 527];
const rowY = [100, 350.5, 600.5];
const barX = [[81, 235], [450, 604.5]];
const barTop = [183, 433, 683];
const labelX = [1, 371];
const labelY = [15, 265, 515];

panelLabels.forEach((label, i) => {
  const col = i % 2;
  const row = Math.floor(i / 2);
  const values = panelValues[i];
  const isLinear = i === 1;
  const colorPos = (isLinear ? d3.scaleLinear() : d3.scaleLog()).domain(panelDomains[i]).range([0, 1]);
  const projection = d3.geoProjection(rawMap)
    .scale(col === 0 ? 156 : 157)
    .translate([columnX[col], rowY[row]]);
  const path = d3.geoPath(projection);
  const g = svg.append('g');

  svg.append('text')
    .attr('x', labelX[col]).attr('y', labelY[row])
    .attr('font-size', 16).attr('font-weight', 'bold')
    .text(label);

  // countries without a value first, thin outlines only
  g.selectAll('path.empty')
    .data(countries.filter(d => values[d.id] === undefined))
    .join('path')
    .attr('class', 'empty')
    .attr('d', path)
    .attr('fill', 'none')
    .attr('stroke', i === 5 ? '#999' : '#bbb')
    .attr('stroke-width', i === 5 ? 0.3 : 0.25);

  g.selectAll('path.filled')
    .data(countries.filter(d => values[d.id] !== undefined))
    .join('path')
    .attr('class', 'filled')
    .attr('d', path)
    .attr('fill', d => ramp(colorPos(values[d.id])))
    .attr('stroke', d => ramp(colorPos(values[d.id])))
    .attr('stroke-width', 0.3);

  g.append('path').datum(antarctica)
    .attr('d', path)
    .attr('fill', 'none').attr('stroke', '#888').attr('stroke-width', 0.5)
    .attr('stroke-dasharray', '2 1');

  g.append('path').datum({ type: 'Sphere' })
    .attr('d', path)
    .attr('fill', 'none').attr('stroke', '#000').attr('stroke-width', 1.3);

  // colour bar
  const barScale = colorPos.copy().range(barX[col]);
  const top = barTop[row];
  const barH = 8;
  svg.append('rect')
    .attr('x', barX[col][0]).attr('y', top)
    .attr('width', barX[col][1] - barX[col][0]).attr('height', barH)
    .attr('fill', 'url(#ramp)')
    .attr('stroke', '#000').attr('stroke-width', 1.2);

  const axisG = svg.append('g').attr('transform', `translate(0,${top + barH})`);
  axisG.append('g')
    .call(d3.axisBottom(barScale).tickValues(minorTicks[i]).tickSize(3).tickFormat(''))
    .call(a => a.select('.domain').remove());
  const major = axisG.append('g')
    .call(d3.axisBottom(barScale).tickValues(majorTicks[i]).tickSize(5).tickFormat(''))
    .call(a => a.select('.domain').remove());
  major.attr('font-family', null).attr('font-size', null);
  major.selectAll('.tick text').each(function (d) {
    const t = d3.select(this).attr('y', 23).attr('dy', 0).attr('font-size', 16.5).attr('fill', '#000');
    if (isLinear) { t.text(d); return; }
    const power = Math.round(Math.log10(d));
    t.append('tspan').text('10');
    t.append('tspan').attr('dy', -7).attr('font-size', 12).text(String(power).replace('-', '\u2212'));
  });
});
</script>
</body>
</html>
